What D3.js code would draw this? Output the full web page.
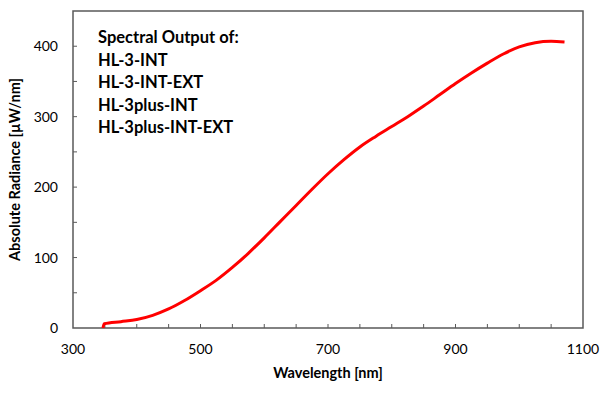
<!DOCTYPE html>
<html>
<head>
<meta charset="utf-8">
<script src="https://cdn.jsdelivr.net/npm/d3@7"></script>
<style>
  body { margin: 0; background: #fff; }
  text { font-family: Lato, "Open Sans", sans-serif; fill: #000; }
</style>
</head>
<body>
<div id="chart"></div>
<script>
var windowsWidth = 610,
  windowsHeight = 398,
  margin = { top: 11, right: 27, bottom: 70, left: 73 },
  width = windowsWidth - margin.left - margin.right,
  height = windowsHeight - margin.top - margin.bottom;

// spectrum
var wavelength = [347, 349, 375, 400, 425, 450, 475, 500, 525, 550, 575, 600, 625, 650, 675,
  700, 725, 750, 775, 800, 825, 850, 875, 900, 925, 950, 975, 1000, 1025, 1050, 1071];
var radiance = [0, 6, 9, 12, 18, 27, 39, 53, 68, 86, 106, 128, 151, 174, 197,
  219, 239, 257, 272, 286, 300, 315, 331, 347, 362, 376, 389, 399, 405, 407, 406];
var xTicks = [300, 500, 700, 900, 1100],
  yTicks = [0, 100, 200, 300, 400],
  legendLines = ["Spectral Output of:", "HL-3-INT", "HL-3-INT-EXT", "HL-3plus-INT", "HL-3plus-INT-EXT"];

var data = wavelength.map(function(d, i){ return { x: d, y: radiance[i] }; });

var svg = d3.select("#chart").append("svg")
  .attr("width", windowsWidth)
  .attr("height", windowsHeight)
  .append("g")
  .attr("transform", "translate(" + margin.left + "," + margin.top + ")");

var x = d3.scaleLinear().domain([300, 1100]).range([0, width]);
var y = d3.scaleLinear().domain([0, 450]).range([height, 0]);

var axisColor = "#595959";

// minor ticks every 50, pointing inward
svg.selectAll(".xtick")
  .data(d3.range(350, 1100, 50)).enter().append("line")
  .attr("x1", function(d){ return x(d); })
  .attr("x2", function(d){ return x(d); })
  .attr("y1", height).attr("y2", height - 4)
  .style("stroke", axisColor).style("stroke-width", 1);

svg.selectAll(".ytick")
  .data(d3.range(50, 450, 50)).enter().append("line")
  .attr("x1", 0).attr("x2", 4)
  .attr("y1", function(d){ return y(d); })
  .attr("y2", function(d){ return y(d); })
  .style("stroke", axisColor).style("stroke-width", 1);

// frame
svg.append("rect")
  .attr("x", 0).attr("y", 0)
  .attr("width", width).attr("height", height)
  .style("fill", "none")
  .style("stroke", axisColor)
  .style("stroke-width", 1.5);

svg.selectAll(".xlabel")
  .data(xTicks).enter().append("text")
  .text(function(d){ return d; })
  .attr("x", function(d){ return x(d); })
  .attr("y", height + 26)
  .style("text-anchor", "middle")
  .style("font-size", "14px");

svg.selectAll(".ylabel")
  .data(yTicks).enter().append("text")
  .text(function(d){ return d; })
  .attr("x", -15)
  .attr("y", function(d){ return y(d) + 5; })
  .style("text-anchor", "end")
  .style("font-size", "14px");

svg.append("text")
  .text("Wavelength [nm]")
  .attr("x", width / 2)
  .attr("y", height + 50)
  .style("text-anchor", "middle")
  .style("font-size", "14.5px")
  .style("font-weight", "bold");

svg.append("text")
  .text("Absolute Radiance [µW/nm]")
  .attr("transform", "translate(-53," + (height / 2) + ") rotate(-90)")
  .style("text-anchor", "middle")
  .style("font-size", "14.5px")
  .style("font-weight", "bold");

svg.selectAll(".legend")
  .data(legendLines).enter().append("text")
  .text(function(d){ return d; })
  .attr("x", 25)
  .attr("y", function(d, i){ return 32 + i * 22.5; })
  .style("font-size", "16.5px")
  .style("font-weight", "bold");

var line = d3.line()
  .x(function(d){ return x(d.x); })
  .y(function(d){ return y(d.y); })
  .curve(d3.curveMonotoneX);

svg.append("path")
  .datum(data)
  .attr("d", line)
  .style("fill", "none")
  .style("stroke", "#ff0000")
  .style("stroke-width", 3);
</script>
</body>
</html>
